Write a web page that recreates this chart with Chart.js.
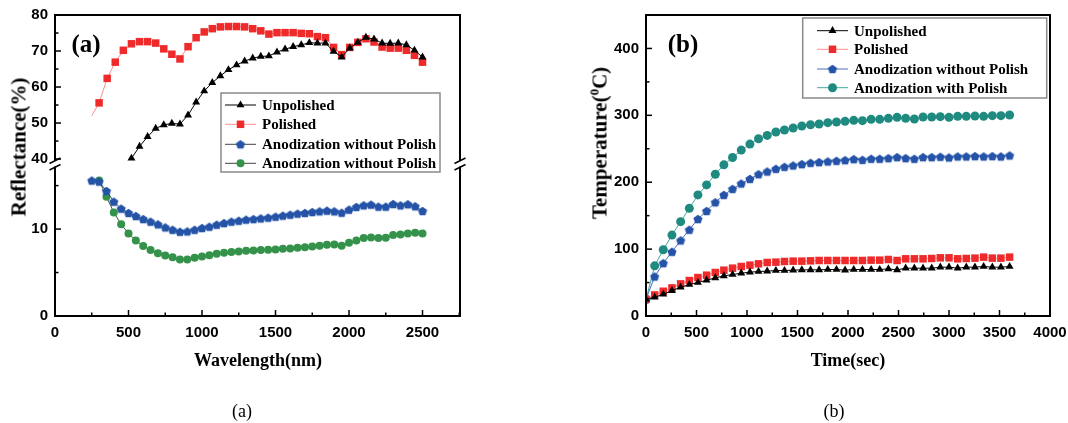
<!DOCTYPE html>
<html>
<head>
<meta charset="utf-8">
<title>Reflectance and temperature</title>
<script src="https://cdn.jsdelivr.net/npm/chart.js@4.4.1/dist/chart.umd.min.js"></script>
<style>
  html, body { margin: 0; background: #fff; }
  #page { position: relative; width: 1068px; height: 423px; overflow: hidden; background: #fff; }
  #page canvas { position: absolute; top: 0; }
  .txt { position: absolute; transform: translate(-50%, -50%); white-space: nowrap; color: #000;
         font-family: "Liberation Serif", "Times New Roman", serif; line-height: 1; }
  .bold { font-weight: bold; }
  .ytitle { transform: translate(-50%, -50%) rotate(-90deg); }
  sup { font-size: 0.62em; vertical-align: 0.6em; line-height: 0; }
</style>
</head>
<body>
<div id="page">
  <canvas id="chart-a" width="534" height="423" style="left:0"></canvas>
  <canvas id="chart-b" width="534" height="423" style="left:534px"></canvas>

  <div class="txt bold ytitle" style="left:19px;top:147px;font-size:21px">Reflectance(%)</div>
  <div class="txt bold" style="left:258px;top:360px;font-size:18px">Wavelength(nm)</div>
  <div class="txt bold" style="left:86px;top:43px;font-size:25px">(a)</div>
  <div class="txt" style="left:242px;top:411px;font-size:18px">(a)</div>

  <div class="txt bold ytitle" style="left:600px;top:143px;font-size:21px">Temperature(<sup>0</sup>C)</div>
  <div class="txt bold" style="left:848px;top:360px;font-size:18px">Time(sec)</div>
  <div class="txt bold" style="left:683px;top:43px;font-size:25px">(b)</div>
  <div class="txt" style="left:834px;top:411px;font-size:18px">(b)</div>
</div>

<script>
// ---- (a) Reflectance vs wavelength ----
const wlUnpolished = [520, 575, 630, 685, 740, 795, 850, 905, 960, 1015, 1070, 1125, 1180, 1235, 1290, 1345,
  1400, 1455, 1510, 1565, 1620, 1675, 1730, 1785, 1840, 1895, 1950, 2005, 2060, 2115, 2170, 2225, 2280,
  2335, 2390, 2445, 2500];
const reflUnpolished = [40.2, 43.5, 46.2, 48.5, 49.5, 49.9, 49.7, 52.2, 55.8, 58.9, 61.2, 63.1, 64.8, 66.1,
  67.2, 68.0, 68.5, 68.6, 69.7, 70.5, 71.2, 71.7, 72.3, 72.2, 72.2, 69.9, 68.3, 70.8, 72.4, 73.8, 73.3,
  72.2, 72.1, 72.2, 71.7, 70.2, 68.3];

const wlPolished = [250, 300, 355, 410, 465, 520, 575, 630, 685, 740, 795, 850, 905, 960, 1015, 1070, 1125,
  1180, 1235, 1290, 1345, 1400, 1455, 1510, 1565, 1620, 1675, 1730, 1785, 1840, 1895, 1950, 2005, 2060,
  2115, 2170, 2225, 2280, 2335, 2390, 2445, 2500];
const reflPolished = [52, 55.6, 62.4, 66.9, 70.2, 72.0, 72.6, 72.6, 72.2, 70.6, 69.1, 67.8, 71.2, 73.7, 75.3,
  76.2, 76.7, 76.8, 76.8, 76.7, 76.2, 75.6, 74.7, 75.1, 75.1, 75.1, 74.9, 74.8, 74.0, 73.7, 71.0, 69.0,
  71.0, 72.4, 73.4, 72.5, 71.1, 70.8, 70.8, 70.2, 68.8, 66.9];

const wlAnodBlue = [250, 300, 350, 400, 450, 500, 550, 600, 650, 700, 750, 800, 850, 900, 950, 1000, 1050,
  1100, 1150, 1200, 1250, 1300, 1350, 1400, 1450, 1500, 1550, 1600, 1650, 1700, 1750, 1800, 1850, 1900,
  1950, 2000, 2050, 2100, 2150, 2200, 2250, 2300, 2350, 2400, 2450, 2500];
const reflAnodBlue = [15.58, 15.46, 14.38, 13.15, 12.35, 11.85, 11.5, 11.15, 10.85, 10.54, 10.19, 9.92, 9.69,
  9.73, 9.92, 10.12, 10.27, 10.5, 10.69, 10.85, 10.96, 11.08, 11.15, 11.23, 11.31, 11.42, 11.54, 11.65,
  11.77, 11.85, 11.96, 12.04, 12.12, 12.04, 11.88, 12.23, 12.54, 12.73, 12.81, 12.58, 12.58, 12.88, 12.73,
  12.85, 12.62, 12.08];

const wlAnodGreen = [300, 350, 400, 450, 500, 550, 600, 650, 700, 750, 800, 850, 900, 950, 1000, 1050, 1100,
  1150, 1200, 1250, 1300, 1350, 1400, 1450, 1500, 1550, 1600, 1650, 1700, 1750, 1800, 1850, 1900, 1950,
  2000, 2050, 2100, 2150, 2200, 2250, 2300, 2350, 2400, 2450, 2500];
const reflAnodGreen = [15.58, 13.73, 11.92, 10.54, 9.5, 8.69, 8.04, 7.58, 7.23, 6.96, 6.77, 6.5, 6.5, 6.69,
  6.85, 7.0, 7.15, 7.27, 7.35, 7.42, 7.5, 7.54, 7.58, 7.62, 7.65, 7.73, 7.77, 7.85, 7.92, 8.0, 8.08, 8.19,
  8.23, 8.08, 8.42, 8.69, 8.96, 9.04, 8.96, 9.0, 9.31, 9.38, 9.5, 9.58, 9.5];

const labelsA = ['Unpolished', 'Polished', 'Anodization without Polish', 'Anodization without Polish'];

// tick positions and which of them carry a label
const aXTicks = [0, 250, 500, 750, 1000, 1250, 1500, 1750, 2000, 2250, 2500, 2750];
const aXLabels = [0, 500, 1000, 1500, 2000, 2500];
const aYHighTicks = [40, 45, 50, 55, 60, 65, 70, 75, 80];
const aYHighLabels = [40, 50, 60, 70, 80];
const aYLowTicks = [0, 5, 10, 15];
const aYLowLabels = [0, 10];

// ---- (b) Temperature vs time ----
const timeSec = [0, 86, 171, 257, 343, 429, 514, 600, 686, 771, 857, 943, 1029, 1114, 1200, 1286, 1371, 1457,
  1543, 1629, 1714, 1800, 1886, 1971, 2057, 2143, 2229, 2314, 2400, 2486, 2571, 2657, 2743, 2829, 2914,
  3000, 3086, 3171, 3257, 3343, 3429, 3514, 3600];
const tempUnpolished = [25, 28, 32.5, 38, 43, 47, 50, 53.5, 57, 60, 62, 64, 65.5, 66.5, 67, 68, 68, 68.5, 69,
  69, 69, 69.5, 69.5, 68.5, 69.5, 69.5, 69.5, 69.5, 70.5, 69, 71.5, 71.5, 71.5, 71.5, 73, 73, 71.5, 73, 73,
  74, 73, 73, 74];
const tempPolished = [25, 31.5, 37, 42, 48, 53, 57.5, 61, 65, 68.5, 71.5, 74, 76, 78, 80, 80.5, 81.5, 82, 82,
  82.5, 83, 83, 83, 83, 83, 83, 83.5, 83.5, 84.5, 83, 85.5, 85.5, 85.5, 86, 87, 87, 85.5, 86, 86.5, 88,
  86.5, 86.5, 88];
const tempAnodNoPolish = [25, 59, 79, 96, 113, 129, 145, 157, 170, 181, 190, 198, 205, 212, 216, 220, 223,
  225, 227, 229, 230, 231, 232, 233, 234.5, 233.5, 235, 235, 236, 237.5, 236, 235, 237.5, 237.5, 238, 237,
  238.5, 238.5, 239, 238.5, 239, 238.5, 240];
const tempAnodPolish = [25, 75, 99, 121, 141, 161, 181, 196, 212, 226, 237, 248, 257, 265, 270, 275, 278,
  281, 284, 286, 287, 289, 290, 291, 292.5, 292, 294, 294, 295.5, 297, 295.5, 294.5, 297.5, 297.5, 298,
  297, 298.5, 298.5, 299, 298.5, 299.5, 299.5, 300.5];

const labelsB = ['Unpolished', 'Polished', 'Anodization without Polish', 'Anodization with Polish'];

const bXTicks = [0, 250, 500, 750, 1000, 1250, 1500, 1750, 2000, 2250, 2500, 2750, 3000, 3250, 3500, 3750, 4000];
const bXLabels = [0, 500, 1000, 1500, 2000, 2500, 3000, 3500, 4000];
const bYTicks = [0, 50, 100, 150, 200, 250, 300, 350, 400];
const bYLabels = [0, 100, 200, 300, 400];

// ---- helpers ----
const zip = (xs, ys) => xs.map((x, i) => ({ x: x, y: ys[i] }));

// Chart.js has no pentagon marker, so build one as a small canvas
function pentagon(color, r) {
  const c = document.createElement('canvas');
  const s = Math.ceil(r * 2 + 2);
  c.width = c.height = s;
  const g = c.getContext('2d');
  g.fillStyle = color;
  g.beginPath();
  for (let i = 0; i < 5; i++) {
    const ang = -Math.PI / 2 + i * 2 * Math.PI / 5;
    const px = s / 2 + r * Math.cos(ang);
    const py = s / 2 + r * Math.sin(ang) + r * 0.1;
    if (i === 0) g.moveTo(px, py); else g.lineTo(px, py);
  }
  g.closePath();
  g.fill();
  return c;
}

const TICK_FONT = { family: '"Liberation Sans", Arial, sans-serif', size: 15, weight: 'bold' };

function xAxis(min, max, tickList, labelList) {
  return {
    type: 'linear', position: 'bottom', min: min, max: max,
    afterBuildTicks: s => { s.ticks = tickList.map(v => ({ value: v })); },
    afterFit: s => { s.height = 30; s.paddingLeft = 0; s.paddingRight = 0; },
    grid: { display: false, drawTicks: false }, border: { display: false },
    ticks: { autoSkip: false, maxRotation: 0, padding: 8, color: '#000', font: TICK_FONT,
      callback: v => labelList.includes(v) ? String(v) : '' }
  };
}

function yAxis(min, max, tickList, labelList, width, extra) {
  return Object.assign({
    type: 'linear', position: 'left', min: min, max: max,
    afterBuildTicks: s => { s.ticks = tickList.map(v => ({ value: v })); },
    afterFit: s => { s.width = width; s.paddingTop = 0; s.paddingBottom = 0; },
    grid: { display: false, drawTicks: false }, border: { display: false },
    ticks: { autoSkip: false, padding: 7, color: '#000', font: TICK_FONT,
      callback: v => labelList.includes(v) ? String(v) : '' }
  }, extra || {});
}

// frame, inward ticks, axis break and the boxed legend
function decor(spec) {
  return {
    id: 'decor',
    afterDraw(chart) {
      const { ctx, chartArea: a } = chart;
      ctx.save();
      ctx.strokeStyle = '#000';
      ctx.lineWidth = 1.5;
      Object.keys(spec.major).forEach(id => {
        const s = chart.scales[id];
        s.ticks.forEach(t => {
          const len = t.value % spec.major[id] === 0 ? 6 : 3.5;
          const p = s.getPixelForValue(t.value);
          ctx.beginPath();
          if (s.isHorizontal()) { ctx.moveTo(p, a.bottom); ctx.lineTo(p, a.bottom - len); }
          else { ctx.moveTo(a.left, p); ctx.lineTo(a.left + len, p); }
          ctx.stroke();
        });
      });

      ctx.lineWidth = 2;
      ctx.strokeRect(a.left, a.top, a.right - a.left, a.bottom - a.top);

      if (spec.breakAxis) {
        const yb = chart.scales[spec.breakAxis].bottom;
        [a.left, a.right].forEach(x0 => {
          ctx.fillStyle = '#fff';
          ctx.fillRect(x0 - 2, yb - 2.5, 4, 6);
          ctx.lineWidth = 1.5;
          ctx.beginPath();
          ctx.moveTo(x0 - 5.5, yb + 0.5); ctx.lineTo(x0 + 5.5, yb - 5);
          ctx.moveTo(x0 - 5.5, yb + 7); ctx.lineTo(x0 + 5.5, yb + 1.5);
          ctx.stroke();
        });
      }

      const L = spec.legend;
      ctx.fillStyle = '#fff';
      ctx.fillRect(L.x0, L.y0, L.x1 - L.x0, L.y1 - L.y0);
      ctx.strokeStyle = '#8a8a8a';
      ctx.lineWidth = 1.5;
      ctx.strokeRect(L.x0, L.y0, L.x1 - L.x0, L.y1 - L.y0);
      chart.data.datasets.forEach((ds, i) => {
        const y = L.rows[i];
        ctx.strokeStyle = ds.legendLine || ds.borderColor;
        ctx.lineWidth = 1;
        ctx.beginPath();
        ctx.moveTo(L.lineX[0], y); ctx.lineTo(L.lineX[1], y);
        ctx.stroke();
        ctx.fillStyle = ds.pointBackgroundColor;
        ctx.strokeStyle = ds.pointBackgroundColor;
        Chart.helpers.drawPoint(ctx, { pointStyle: ds.pointStyle, radius: ds.legendRadius || ds.pointRadius,
          rotation: 0, borderWidth: 0 }, (L.lineX[0] + L.lineX[1]) / 2, y);
        ctx.fillStyle = '#000';
        ctx.font = 'bold 15px "Liberation Serif", "Times New Roman", serif';
        ctx.textBaseline = 'middle';
        ctx.textAlign = 'left';
        ctx.fillText(ds.label, L.textX, y + 1);
      });
      ctx.restore();
    }
  };
}

const BLACK = '#000000', RED = '#ee2a2a', BLUE = '#2453a8', GREEN = '#34924a', TEAL = '#1f8a80';
const blueMark = pentagon(BLUE, 4.8);

const common = {
  responsive: false, devicePixelRatio: 1, animation: false, events: [],
  plugins: { legend: { display: false }, tooltip: { enabled: false } }
};

// ---- chart (a) ----
new Chart(document.getElementById('chart-a'), {
  type: 'line',
  data: {
    datasets: [
      { label: labelsA[0], data: zip(wlUnpolished, reflUnpolished), yAxisID: 'y2',
        borderColor: BLACK, borderWidth: 1, pointStyle: 'triangle', pointRadius: 4.6,
        pointBackgroundColor: BLACK, pointBorderWidth: 0 },
      { label: labelsA[1], data: zip(wlPolished, reflPolished), yAxisID: 'y2',
        borderColor: '#ff8c8c', borderWidth: 1, pointStyle: 'rect',
        pointRadius: c => c.dataIndex === 0 ? 0 : 5.3, legendRadius: 5.3,
        pointBackgroundColor: RED, pointBorderWidth: 0 },
      { label: labelsA[2], data: zip(wlAnodBlue, reflAnodBlue), yAxisID: 'y',
        borderColor: '#3a4a6a', legendLine: '#444', borderWidth: 1, pointStyle: blueMark, pointRadius: 4.8,
        pointBackgroundColor: BLUE, pointBorderWidth: 0 },
      { label: labelsA[3], data: zip(wlAnodGreen, reflAnodGreen), yAxisID: 'y',
        borderColor: '#3a5a40', legendLine: '#444', borderWidth: 1, pointStyle: 'circle', pointRadius: 4,
        pointBackgroundColor: GREEN, pointBorderWidth: 0 }
    ]
  },
  options: Object.assign({}, common, {
    layout: { padding: { left: 0, right: 74, top: 15, bottom: 77 } },
    scales: {
      x: xAxis(0, 2755, aXTicks, aXLabels),
      y: yAxis(0, 17.6, aYLowTicks, aYLowLabels, 55, { stack: 'refl', stackWeight: 153 }),
      y2: yAxis(38.9, 80, aYHighTicks, aYHighLabels, 55, { stack: 'refl', stackWeight: 148 })
    }
  }),
  plugins: [decor({
    major: { x: 500, y: 10, y2: 10 },
    breakAxis: 'y2',
    legend: { x0: 221, y0: 93, x1: 440, y1: 172, rows: [105, 124.3, 144.3, 163.3], lineX: [225, 256], textX: 262 }
  })]
});

// ---- chart (b) ----
new Chart(document.getElementById('chart-b'), {
  type: 'line',
  data: {
    datasets: [
      { label: labelsB[0], data: zip(timeSec, tempUnpolished),
        borderColor: BLACK, borderWidth: 1, pointStyle: 'triangle', pointRadius: 4.6,
        pointBackgroundColor: BLACK, pointBorderWidth: 0 },
      { label: labelsB[1], data: zip(timeSec, tempPolished),
        borderColor: '#ff8c8c', borderWidth: 1, pointStyle: 'rect', pointRadius: 5.3,
        pointBackgroundColor: RED, pointBorderWidth: 0 },
      { label: labelsB[2], data: zip(timeSec, tempAnodNoPolish),
        borderColor: '#4d6fc0', borderWidth: 1, pointStyle: blueMark, pointRadius: 4.8,
        pointBackgroundColor: BLUE, pointBorderWidth: 0 },
      { label: labelsB[3], data: zip(timeSec, tempAnodPolish),
        borderColor: '#45a89e', borderWidth: 1, pointStyle: 'circle', pointRadius: 4.5,
        pointBackgroundColor: TEAL, pointBorderWidth: 0 }
    ]
  },
  options: Object.assign({}, common, {
    layout: { padding: { left: 0, right: 18, top: 15, bottom: 77 } },
    scales: {
      x: xAxis(0, 4000, bXTicks, bXLabels),
      y: yAxis(0, 450, bYTicks, bYLabels, 112)
    }
  }),
  plugins: [decor({
    major: { x: 500, y: 100 },
    legend: { x0: 268.7, y0: 18, x1: 512.7, y1: 98, rows: [30.7, 49.3, 69, 87.7], lineX: [283, 314], textX: 320 }
  })]
});
</script>
</body>
</html>
